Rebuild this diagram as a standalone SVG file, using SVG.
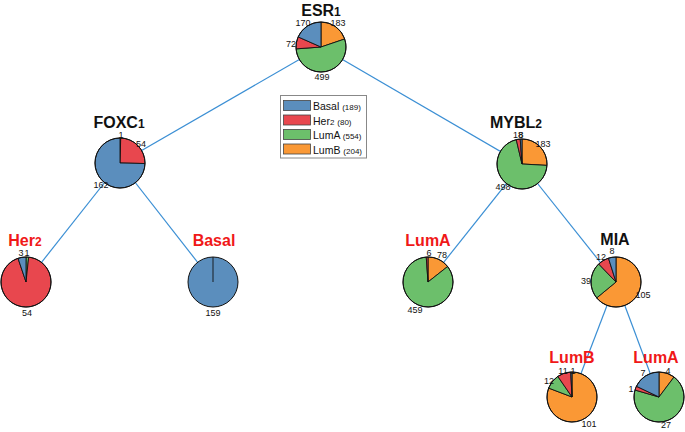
<svg xmlns="http://www.w3.org/2000/svg" width="685" height="432" viewBox="0 0 685 432">
<style>
.bg{fill:#ffffff}
.edge{stroke:#3b8fd4;stroke-width:1.2;fill:none}
.w{stroke:#111;stroke-width:0.9;stroke-linejoin:round}
.basal{fill:#5b8ebd}
.her2{fill:#e8474e}
.luma{fill:#6cbf6b}
.lumb{fill:#fa9835}
.ring{fill:none;stroke:#111;stroke-width:1}
.t{font-family:"Liberation Sans",Arial,sans-serif;font-weight:bold;font-size:16px;text-anchor:middle;fill:#111}
.tr{fill:#f01818}
.sub{font-size:12px}
.n{font-family:"Liberation Sans",Arial,sans-serif;font-size:9px;text-anchor:middle;fill:#111}
.lg{font-family:"Liberation Sans",Arial,sans-serif;font-size:10.5px;fill:#111}
.lgs{font-size:8px}
.patch{stroke:#444;stroke-width:0.8}
</style>
<rect class="bg" x="0" y="0" width="685" height="432"/>
<g id="connectors">
<line class="edge" x1="321" y1="47" x2="120" y2="163"/>
<line class="edge" x1="321" y1="47" x2="522" y2="164"/>
<line class="edge" x1="120" y1="163" x2="26" y2="282"/>
<line class="edge" x1="120" y1="163" x2="213" y2="282"/>
<line class="edge" x1="522" y1="164" x2="428" y2="282"/>
<line class="edge" x1="522" y1="164" x2="616" y2="282"/>
<line class="edge" x1="616" y1="282" x2="572" y2="397"/>
<line class="edge" x1="616" y1="282" x2="659" y2="397"/>
</g>
<g id="legend">
<rect x="280.5" y="95.5" width="86" height="62.5" fill="#fff" stroke="#888" stroke-width="1"/>
<rect class="patch basal" x="283.5" y="100.5" width="27" height="10"/>
<rect class="patch her2" x="283.5" y="115" width="27" height="10"/>
<rect class="patch luma" x="283.5" y="129.5" width="27" height="10"/>
<rect class="patch lumb" x="283.5" y="144" width="27" height="10"/>
<text class="lg" x="313" y="110">Basal <tspan class="lgs">(189)</tspan></text>
<text class="lg" x="313" y="124.5">Her<tspan class="lgs">2</tspan> <tspan class="lgs">(80)</tspan></text>
<text class="lg" x="313" y="139">LumA <tspan class="lgs">(554)</tspan></text>
<text class="lg" x="313" y="153.5">LumB <tspan class="lgs">(204)</tspan></text>
</g>
<g id="ESR1">
<path class="w lumb" d="M321,47 L321,22 A25,25 0 0 1 344.68,38.99 Z"/>
<path class="w luma" d="M321,47 L344.68,38.99 A25,25 0 1 1 296.07,48.87 Z"/>
<path class="w her2" d="M321,47 L296.07,48.87 A25,25 0 0 1 298.12,36.92 Z"/>
<path class="w basal" d="M321,47 L298.12,36.92 A25,25 0 0 1 321,22 Z"/>
<circle class="ring" cx="321" cy="47" r="25"/>
<text class="t" x="321" y="16">ESR<tspan class="sub">1</tspan></text>
<text class="n" x="303" y="26">170</text>
<text class="n" x="338" y="26">183</text>
<text class="n" x="291" y="47">72</text>
<text class="n" x="322" y="80">499</text>
</g>
<g id="FOXC1">
<path class="w luma" d="M120,163 L120,138 A25,25 0 0 1 120.72,138.01 Z"/>
<path class="w her2" d="M120,163 L120.72,138.01 A25,25 0 0 1 144.99,163.54 Z"/>
<path class="w basal" d="M120,163 L144.99,163.54 A25,25 0 1 1 120,138 Z"/>
<circle class="ring" cx="120" cy="163" r="25"/>
<text class="t" x="119" y="128">FOXC<tspan class="sub">1</tspan></text>
<text class="n" x="121" y="138">1</text>
<text class="n" x="141" y="147">54</text>
<text class="n" x="101" y="188">162</text>
</g>
<g id="MYBL2">
<path class="w lumb" d="M522,164 L522,139 A25,25 0 0 1 546.96,165.39 Z"/>
<path class="w luma" d="M522,164 L546.96,165.39 A25,25 0 1 1 516.27,139.66 Z"/>
<path class="w her2" d="M522,164 L516.27,139.66 A25,25 0 0 1 520.22,139.06 Z"/>
<path class="w basal" d="M522,164 L520.22,139.06 A25,25 0 0 1 522,139 Z"/>
<circle class="ring" cx="522" cy="164" r="25"/>
<text class="t" x="516" y="128">MYBL<tspan class="sub">2</tspan></text>
<text class="n" x="518" y="138">18</text>
<text class="n" x="521" y="138">8</text>
<text class="n" x="543" y="147">183</text>
<text class="n" x="503" y="190">498</text>
</g>
<g id="Her2">
<path class="w luma" d="M26,282 L26,257 A25,25 0 0 1 28.70,257.15 Z"/>
<path class="w her2" d="M26,282 L28.70,257.15 A25,25 0 1 1 18.02,258.31 Z"/>
<path class="w basal" d="M26,282 L18.02,258.31 A25,25 0 0 1 26,257 Z"/>
<circle class="ring" cx="26" cy="282" r="25"/>
<text class="t tr" x="25" y="246">Her<tspan class="sub">2</tspan></text>
<text class="n" x="21" y="256">3</text>
<text class="n" x="27" y="256">1</text>
<text class="n" x="27" y="316">54</text>
</g>
<g id="Basal">
<circle class="basal" cx="213" cy="282" r="25"/>
<line x1="213" y1="282" x2="213" y2="257" stroke="#111" stroke-width="0.9"/>
<circle class="ring" cx="213" cy="282" r="25"/>
<text class="t tr" x="214" y="246">Basal</text>
<text class="n" x="213" y="316">159</text>
</g>
<g id="LumA1">
<path class="w lumb" d="M428,282 L428,257 A25,25 0 0 1 447.62,266.51 Z"/>
<path class="w luma" d="M428,282 L447.62,266.51 A25,25 0 1 1 426.26,257.06 Z"/>
<path class="w her2" d="M428,282 L426.26,257.06 A25,25 0 0 1 428,257 Z"/>
<circle class="ring" cx="428" cy="282" r="25"/>
<text class="t tr" x="428" y="246">LumA</text>
<text class="n" x="429" y="256">6</text>
<text class="n" x="442" y="258">78</text>
<text class="n" x="415" y="313">459</text>
</g>
<g id="MIA">
<path class="w lumb" d="M616,282 L616,257 A25,25 0 1 1 596.71,297.91 Z"/>
<path class="w luma" d="M616,282 L596.71,297.91 A25,25 0 0 1 598.66,263.99 Z"/>
<path class="w her2" d="M616,282 L598.66,263.99 A25,25 0 0 1 608.46,258.16 Z"/>
<path class="w basal" d="M616,282 L608.46,258.16 A25,25 0 0 1 616,257 Z"/>
<circle class="ring" cx="616" cy="282" r="25"/>
<text class="t" x="615" y="245">MIA</text>
<text class="n" x="601" y="260">12</text>
<text class="n" x="612" y="254">8</text>
<text class="n" x="586" y="284">39</text>
<text class="n" x="643" y="298">105</text>
</g>
<g id="LumB">
<path class="w lumb" d="M572,397 L572,372 A25,25 0 1 1 548.64,388.09 Z"/>
<path class="w luma" d="M572,397 L548.64,388.09 A25,25 0 0 1 557.82,376.41 Z"/>
<path class="w her2" d="M572,397 L557.82,376.41 A25,25 0 0 1 570.74,372.03 Z"/>
<path class="w basal" d="M572,397 L570.74,372.03 A25,25 0 0 1 572,372 Z"/>
<circle class="ring" cx="572" cy="397" r="25"/>
<text class="t tr" x="572" y="363">LumB</text>
<text class="n" x="563" y="374">11</text>
<text class="n" x="573" y="374">1</text>
<text class="n" x="549" y="384">12</text>
<text class="n" x="589" y="427">101</text>
</g>
<g id="LumA2">
<path class="w lumb" d="M659,397 L659,372 A25,25 0 0 1 674.02,377.01 Z"/>
<path class="w luma" d="M659,397 L674.02,377.01 A25,25 0 1 1 634.99,390.04 Z"/>
<path class="w her2" d="M659,397 L634.99,390.04 A25,25 0 0 1 636.41,386.28 Z"/>
<path class="w basal" d="M659,397 L636.41,386.28 A25,25 0 0 1 659,372 Z"/>
<circle class="ring" cx="659" cy="397" r="25"/>
<text class="t tr" x="656" y="363">LumA</text>
<text class="n" x="643" y="376">7</text>
<text class="n" x="668" y="374">4</text>
<text class="n" x="631" y="392">1</text>
<text class="n" x="666" y="428">27</text>
</g>
</svg>
